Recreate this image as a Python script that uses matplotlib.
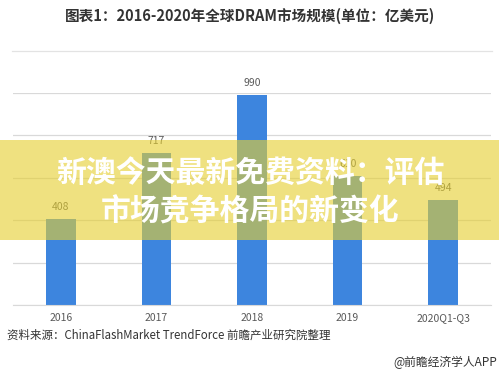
"""DRAM market size bar chart with overlaid banner."""

import matplotlib
matplotlib.use("Agg")
import matplotlib.pyplot as plt
from matplotlib.patches import Rectangle
from matplotlib.lines import Line2D

plt.rcParams["font.family"] = ["Noto Sans CJK SC", "DejaVu Sans"]

years = ["2016", "2017", "2018", "2019", "2020Q1-Q3"]
market = [408, 717, 990, 610, 494]
y_ticks = [0, 200, 400, 600, 800, 1000]

TITLE = "图表1：2016-2020年全球DRAM市场规模(单位：亿美元)"
SOURCE = "资料来源：ChinaFlashMarket TrendForce 前瞻产业研究院整理"
CREDIT = "@前瞻经济学人APP"
BANNER = ["新澳今天最新免费资料：评估", "市场竞争格局的新变化"]

BLUE = "#3D85DE"
GRID = "#D9D9D9"
TEXT = "#595959"

W, H = 499, 383
fig = plt.figure(figsize=(W / 100, H / 100), dpi=100)

ax = fig.add_axes([13 / W, (H - 305) / H, 478 / W, 212 / H])
x = range(len(years))
ax.bar(x, market, width=0.31, color=BLUE, zorder=2)
for xi, v in zip(x, market):
    ax.annotate(f"{v}", xy=(xi, v), xytext=(0, 5), textcoords="offset points",
                ha="center", va="bottom", fontsize=7.5, color=TEXT)
ax.set_xlim(-0.5, len(years) - 0.5)
ax.set_ylim(0, 1000)
ax.set_yticks(y_ticks)
ax.yaxis.grid(True, color=GRID, lw=0.9, zorder=0)
ax.set_yticklabels([])
ax.tick_params(axis="y", length=0)
ax.set_xticks(list(x))
ax.set_xticklabels(years, fontsize=7.5, color=TEXT)
ax.tick_params(axis="x", length=0, pad=6)
for sp in ("top", "right", "left"):
    ax.spines[sp].set_visible(False)
ax.spines["bottom"].set_color(GRID)

# title and separator
fig.text(250 / W, 1 - 16 / H, TITLE, ha="center", va="center",
         fontsize=10.5, fontweight="bold", color="#333333")
fig.add_artist(Line2D([12 / W, 492 / W], [1 - 51 / H, 1 - 51 / H],
                      color="#E3E3E3", lw=0.9, transform=fig.transFigure))

# footer
fig.text(7 / W, 1 - 335 / H, SOURCE, ha="left", va="center",
         fontsize=8.25, color="#333333")
fig.text(497 / W, 1 - 362 / H, CREDIT, ha="right", va="center",
         fontsize=8.5, color="#333333")

# banner overlay
fig.add_artist(Rectangle((0, (H - 240) / H), 1, 100 / H, transform=fig.transFigure,
                         facecolor=(0.90, 0.81, 0.19), alpha=0.61, lw=0, zorder=5))
for txt, yy in zip(BANNER, (173, 212)):
    fig.text(250 / W, 1 - yy / H, txt, ha="center", va="center", fontsize=21.5,
             fontweight=900, color="white", zorder=6)

fig.savefig("out.png", dpi=100)
